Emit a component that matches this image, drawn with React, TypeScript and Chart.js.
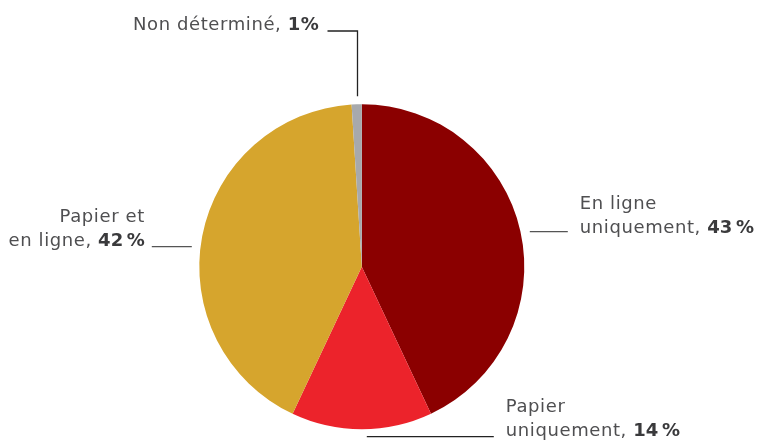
import React, { useEffect, useRef } from "react";
import { Chart, registerables } from "chart.js";

Chart.register(...registerables);

const categories = ["En ligne uniquement", "Papier uniquement", "Papier et en ligne", "Non déterminé"];
const shares = [43, 14, 42, 1];
const sliceColors = ["#8B0000", "#EC232B", "#D6A52D", "#A7A9AC"];
const labelTextLines = [
  ["En ligne", "uniquement, "],
  ["Papier", "uniquement, "],
  ["Papier et", "en ligne, "],
  ["Non déterminé, "],
];
const percentLabels = ["43\u202F%", "14\u202F%", "42\u202F%", "1%"];

const FONT = '"DejaVu Sans", sans-serif';
const FS = 18;
const LH = 24;
const SPACING = "0.6px";

const labelPlugin = {
  id: "pieLabels",
  afterDraw(chart: any) {
    const ctx = chart.ctx as CanvasRenderingContext2D;
    const meta = chart.getDatasetMeta(0);
    const first = meta.data[0] as any;
    const cx = first.x;
    const cy = first.y;
    const r = first.outerRadius;

    const drawLabel = (i: number, x: number, baseline: number, align: "left" | "right") => {
      const lines = labelTextLines[i];
      (ctx as any).letterSpacing = SPACING;
      lines.forEach((txt, k) => {
        const y = baseline - (lines.length - 1 - k) * LH;
        const isLast = k === lines.length - 1;
        ctx.font = `${FS}px ${FONT}`;
        const w1 = ctx.measureText(txt).width;
        ctx.font = `bold ${FS}px ${FONT}`;
        const w2 = isLast ? ctx.measureText(percentLabels[i]).width : 0;
        const total = w1 + w2;
        const sx = align === "left" ? x : x - total;
        ctx.textBaseline = "alphabetic";
        ctx.textAlign = "left";
        ctx.fillStyle = "#4f4f51";
        ctx.font = `${FS}px ${FONT}`;
        ctx.fillText(txt, sx, y);
        if (isLast) {
          ctx.fillStyle = "#3a3a3c";
          ctx.font = `bold ${FS}px ${FONT}`;
          ctx.fillText(percentLabels[i], sx + w1, y);
        }
      });
      (ctx as any).letterSpacing = "0px";
    };

    const line = (pts: number[][], color: string) => {
      ctx.save();
      ctx.strokeStyle = color;
      ctx.lineWidth = 1.3;
      ctx.beginPath();
      ctx.moveTo(pts[0][0], pts[0][1]);
      for (let k = 1; k < pts.length; k++) ctx.lineTo(pts[k][0], pts[k][1]);
      ctx.stroke();
      ctx.restore();
    };

    ctx.save();
    // 0: En ligne uniquement (right)
    {
      const y = cy - 35;
      line([[cx + 168, y], [cx + 206, y]], "#555");
      drawLabel(0, cx + 218, y + 1, "left");
    }
    // 1: Papier uniquement (bottom right)
    {
      const y = cy + 170;
      line([[cx + 5, y], [cx + 132, y]], "#222");
      drawLabel(1, cx + 144, y - 1, "left");
    }
    // 2: Papier et en ligne (left)
    {
      const y = cy - 20;
      line([[cx - 170, y], [cx - 210, y]], "#555");
      drawLabel(2, cx - 217, y - 1, "right");
    }
    // 3: Non déterminé (top)
    {
      const arc = meta.data[3] as any;
      const mid = (arc.startAngle + arc.endAngle) / 2;
      const lx = Math.round(cx + Math.cos(mid) * r) + 0.5;
      const topY = cy - r - 8;
      const y = 31;
      line([[lx, topY], [lx, y], [lx - 30, y]], "#222");
      drawLabel(3, lx - 38, y - 1, "right");
    }
    ctx.restore();
  },
};

export default function App() {
  const ref = useRef<HTMLCanvasElement | null>(null);
  useEffect(() => {
    document.body.style.margin = "0";
    if (!ref.current) return;
    const chart = new Chart(ref.current, {
      type: "pie",
      data: {
        labels: categories,
        datasets: [
          {
            data: shares,
            backgroundColor: sliceColors,
            borderWidth: 0,
          },
        ],
      },
      options: {
        responsive: false,
        animation: false,
        layout: { padding: { top: 104.2, bottom: 12.8, left: 199.3, right: 236.7 } },
        plugins: {
          legend: { display: false },
          tooltip: { enabled: false },
        },
      },
      plugins: [labelPlugin],
    });
    return () => chart.destroy();
  }, []);
  return (
    <div style={{ width: 761, height: 442, background: "#fff" }}>
      <canvas ref={ref} width={761} height={442} style={{ display: "block" }} />
    </div>
  );
}
